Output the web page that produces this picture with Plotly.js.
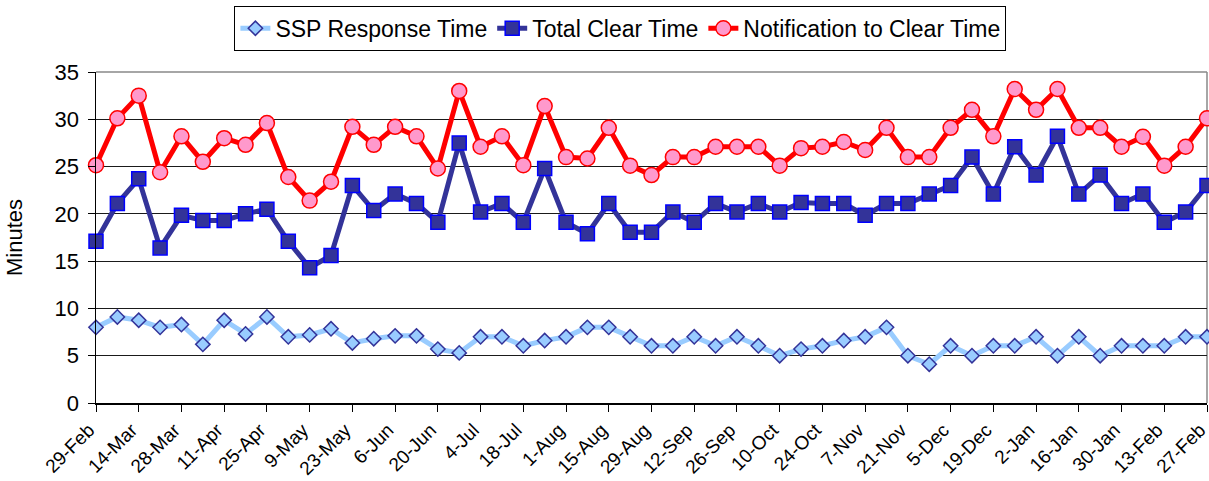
<!DOCTYPE html>
<html>
<head>
<meta charset="utf-8">
<script src="https://cdn.plot.ly/plotly-3.0.1.min.js"></script>
<style>html,body{margin:0;padding:0;background:#fff;}#chart{width:1209px;height:481px;}</style>
</head>
<body>
<div id="chart"></div>
<script>
// Weekly categories (29-Feb to 27-Feb)
const weeks = ["29-Feb","7-Mar","14-Mar","21-Mar","28-Mar","4-Apr","11-Apr","18-Apr","25-Apr","2-May",
  "9-May","16-May","23-May","30-May","6-Jun","13-Jun","20-Jun","27-Jun","4-Jul","11-Jul",
  "18-Jul","25-Jul","1-Aug","8-Aug","15-Aug","22-Aug","29-Aug","5-Sep","12-Sep","19-Sep",
  "26-Sep","3-Oct","10-Oct","17-Oct","24-Oct","31-Oct","7-Nov","14-Nov","21-Nov","28-Nov",
  "5-Dec","12-Dec","19-Dec","26-Dec","2-Jan","9-Jan","16-Jan","23-Jan","30-Jan","6-Feb",
  "13-Feb","20-Feb","27-Feb"];

// Tick labels shown (every second week)
const tickLabels = ["29-Feb","14-Mar","28-Mar","11-Apr","25-Apr","9-May","23-May","6-Jun","20-Jun","4-Jul",
  "18-Jul","1-Aug","15-Aug","29-Aug","12-Sep","26-Sep","10-Oct","24-Oct","7-Nov","21-Nov",
  "5-Dec","19-Dec","2-Jan","16-Jan","30-Jan","13-Feb","27-Feb"];

const sspResponse = [8.0,9.1,8.75,8.0,8.3,6.2,8.75,7.3,9.1,7.0,
  7.2,7.85,6.35,6.8,7.1,7.1,5.7,5.3,7.0,7.0,
  6.05,6.6,7.0,8.0,8.0,7.0,6.05,6.05,7.0,6.05,
  7.0,6.05,5.0,5.7,6.05,6.6,7.0,8.0,5.0,4.1,
  6.05,5.0,6.05,6.05,7.0,5.0,7.0,5.0,6.05,6.05,
  6.05,7.0,7.0];

const totalClear = [17.1,21.1,23.7,16.4,19.85,19.3,19.3,20.0,20.5,17.1,
  14.3,15.6,23.0,20.35,22.1,21.1,19.1,27.5,20.2,21.1,
  19.1,24.8,19.1,17.9,21.1,18.05,18.05,20.2,19.1,21.1,
  20.2,21.1,20.2,21.2,21.1,21.1,19.85,21.1,21.1,22.1,
  23.0,26.0,22.1,27.1,24.1,28.2,22.1,24.1,21.1,22.1,
  19.1,20.2,23.0];

const notifClear = [25.15,30.1,32.5,24.4,28.2,25.5,28.0,27.3,29.6,23.9,
  21.4,23.4,29.2,27.3,29.2,28.2,24.8,33.0,27.1,28.2,
  25.15,31.4,26.0,25.85,29.1,25.1,24.1,26.0,26.0,27.1,
  27.1,27.1,25.1,26.95,27.1,27.6,26.75,29.1,26.0,26.0,
  29.1,31.0,28.2,33.2,31.0,33.2,29.1,29.1,27.1,28.15,
  25.1,27.1,30.1];

const FONT = "Liberation Sans, Arial, sans-serif";

const traces = [
  {
    x: weeks, y: sspResponse, name: "SSP Response Time", type: "scatter", mode: "lines+markers",
    line: {color: "#99CCFF", width: 5},
    marker: {symbol: "diamond", size: 11, color: "#99CCFF", line: {color: "#333399", width: 1.5}},
    cliponaxis: false
  },
  {
    x: weeks, y: totalClear, name: "Total Clear Time", type: "scatter", mode: "lines+markers",
    line: {color: "#333399", width: 5},
    marker: {symbol: "square", size: 14, color: "#333399", line: {color: "#0000FF", width: 1.5}},
    cliponaxis: false
  },
  {
    x: weeks, y: notifClear, name: "Notification to Clear Time", type: "scatter", mode: "lines+markers",
    line: {color: "#FF0000", width: 5},
    marker: {symbol: "circle", size: 15, color: "#FF99CC", line: {color: "#FF0000", width: 1.5}},
    cliponaxis: false
  }
];

const layout = {
  width: 1209, height: 481,
  margin: {l: 96, r: 2, t: 72, b: 78},
  paper_bgcolor: "#ffffff", plot_bgcolor: "#ffffff",
  font: {family: FONT, color: "#000", size: 20},
  showlegend: true,
  legend: {
    orientation: "h", x: 0.472, xanchor: "center", y: 1.2, yanchor: "top",
    bordercolor: "#000", borderwidth: 1, bgcolor: "#fff",
    font: {family: FONT, size: 23, color: "#000"}
  },
  xaxis: {
    type: "category", range: [0, 52],
    tickmode: "array", tickvals: tickLabels, ticktext: tickLabels,
    tickangle: -45, ticks: "outside", ticklen: 7, tickcolor: "#000", tickwidth: 1,
    ticklabelshift: -7,
    showline: true, linecolor: "#000", linewidth: 1.5,
    showgrid: false, zeroline: false,
    tickfont: {family: FONT, size: 19, color: "#000"}
  },
  yaxis: {
    range: [0, 35], tickmode: "linear", tick0: 0, dtick: 5,
    ticks: "outside", ticklen: 7, tickcolor: "#000", tickwidth: 1,
    ticklabelstandoff: 4,
    showline: true, linecolor: "#000", linewidth: 1.5,
    showgrid: true, gridcolor: "#1a1a1a", gridwidth: 1, zeroline: false,
    tickfont: {family: FONT, size: 22, color: "#000"},
    title: {text: "Minutes", font: {family: FONT, size: 22, color: "#000"}, standoff: 26}
  },
  shapes: [
    {type: "line", xref: "paper", yref: "paper", x0: 0, x1: 1, y0: 1, y1: 1, line: {color: "#888", width: 1.5}, layer: "below"},
    {type: "line", xref: "paper", yref: "paper", x0: 1, x1: 1, y0: 0, y1: 1, line: {color: "#888", width: 1.5}, layer: "below"}
  ]
};

Plotly.newPlot("chart", traces, layout, {displayModeBar: false, staticPlot: true});
</script>
</body>
</html>
